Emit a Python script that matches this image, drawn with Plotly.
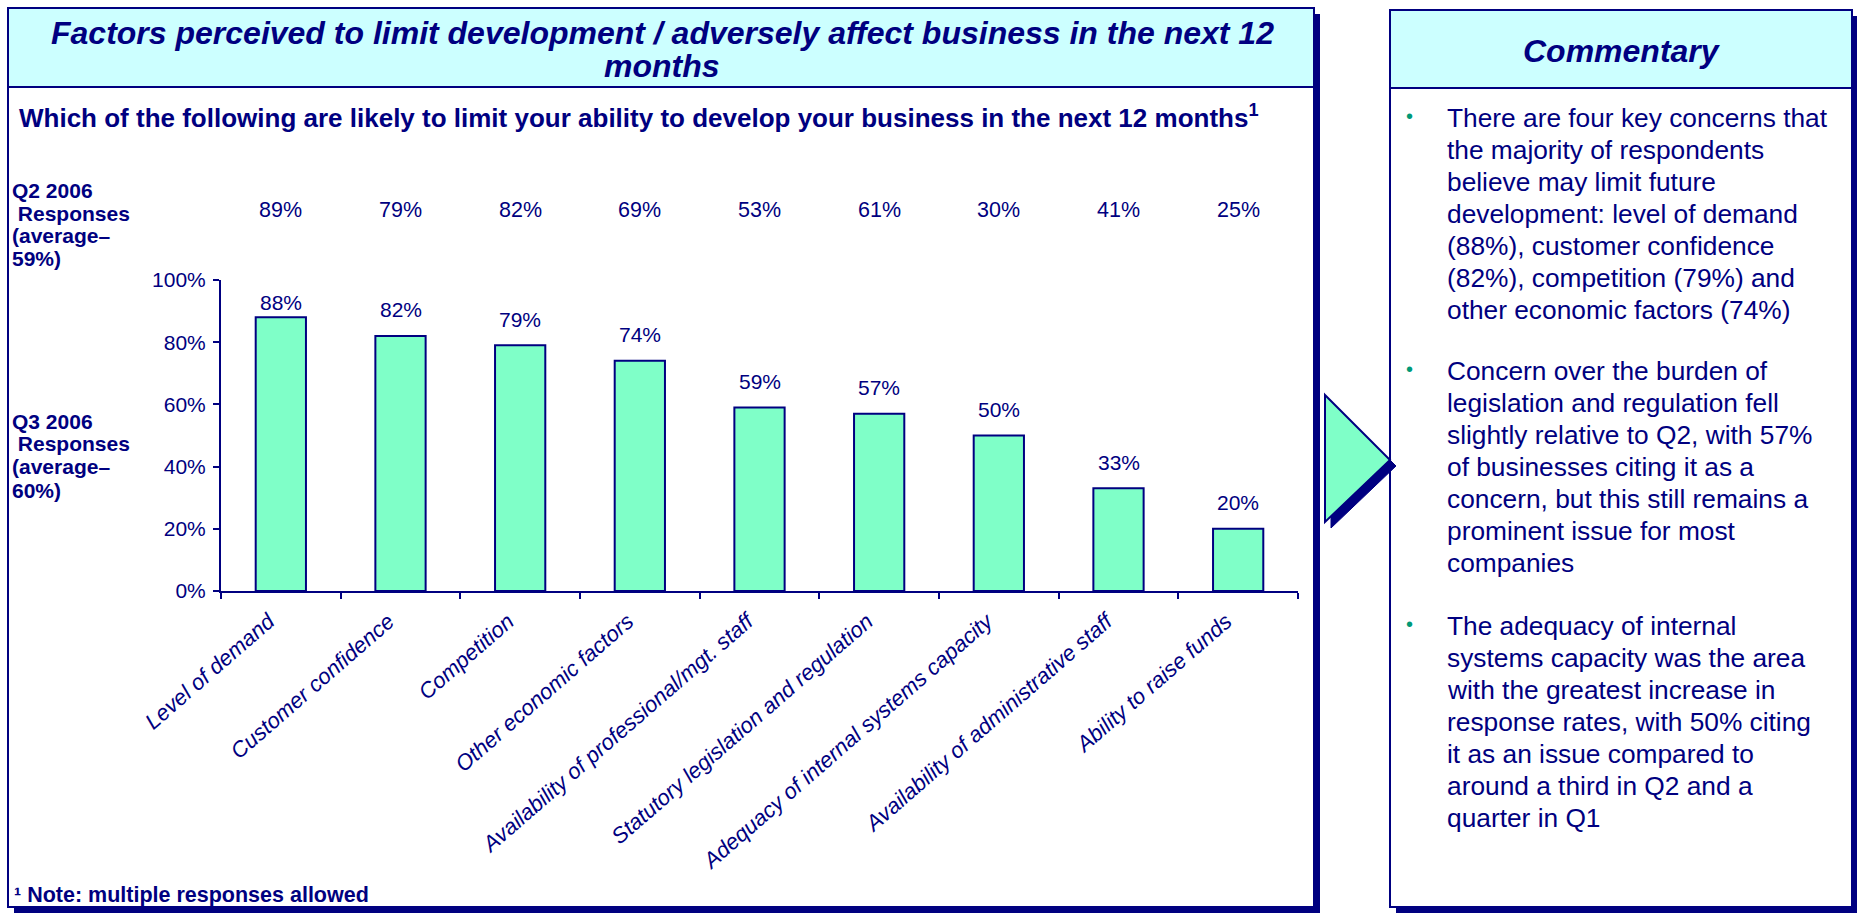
import plotly.graph_objects as go

# ---------------- data ----------------
categories = [
    "Level of demand",
    "Customer confidence",
    "Competition",
    "Other economic factors",
    "Availability of professional/mgt. staff",
    "Statutory legislation and regulation",
    "Adequacy of internal systems capacity",
    "Availability of administrative staff",
    "Ability to raise funds",
]
q3_values = [88, 82, 79, 74, 59, 57, 50, 33, 20]
q2_values = [89, 79, 82, 69, 53, 61, 30, 41, 25]
y_ticks = [0, 20, 40, 60, 80, 100]

title_lines = ["Factors perceived to limit development / adversely affect business in the next 12",
               "months"]
subtitle = "Which of the following are likely to limit your ability to develop your business in the next 12 months<sup>1</sup>"
q2_label = ["Q2 2006", " Responses", "(average\u2013", "59%)"]
q3_label = ["Q3 2006", " Responses", "(average\u2013", "60%)"]
footnote = "\u00b9 Note: multiple responses allowed"
commentary_title = "Commentary"
commentary = [
    ["There are four key concerns that", "the majority of respondents", "believe may limit future",
     "development: level of demand", "(88%), customer confidence", "(82%), competition (79%) and",
     "other economic factors (74%)"],
    ["Concern over the burden of", "legislation and regulation fell", "slightly relative to Q2, with 57%",
     "of businesses citing it as a", "concern, but this still remains a", "prominent issue for most",
     "companies"],
    ["The adequacy of internal", "systems capacity was the area", "with the greatest increase in",
     "response rates, with 50% citing", "it as an issue compared to", "around a third in Q2 and a",
     "quarter in Q1"],
]

# ---------------- styling ----------------
W, H = 1857, 915
NAVY = "#000080"
CYAN = "#CCFFFF"
AQUA = "#7FFFC8"
TEAL = "#009977"
FONT = "Liberation Sans, Arial, sans-serif"


def X(px):
    return px / W


def Y(py):
    return 1 - py / H


fig = go.Figure()

fig.add_trace(go.Bar(
    x=categories, y=q3_values,
    marker=dict(color=AQUA, line=dict(color=NAVY, width=2)),
    width=0.42,
    cliponaxis=False,
    hoverinfo="skip",
))

shapes = []
# left panel shadow + panel
shapes.append(dict(type="rect", xref="paper", yref="paper", x0=X(14), x1=X(1320), y0=Y(913), y1=Y(14),
                   fillcolor=NAVY, line=dict(width=0), layer="below"))
shapes.append(dict(type="rect", xref="paper", yref="paper", x0=X(8), x1=X(1314), y0=Y(907), y1=Y(8),
                   fillcolor="white", line=dict(color=NAVY, width=2), layer="below"))
shapes.append(dict(type="rect", xref="paper", yref="paper", x0=X(8), x1=X(1314), y0=Y(87), y1=Y(8),
                   fillcolor=CYAN, line=dict(color=NAVY, width=2), layer="below"))
# commentary panel
shapes.append(dict(type="rect", xref="paper", yref="paper", x0=X(1396), x1=X(1858), y0=Y(913), y1=Y(16),
                   fillcolor=NAVY, line=dict(width=0), layer="below"))
shapes.append(dict(type="rect", xref="paper", yref="paper", x0=X(1390), x1=X(1852), y0=Y(907), y1=Y(10),
                   fillcolor="white", line=dict(color=NAVY, width=2), layer="below"))
shapes.append(dict(type="rect", xref="paper", yref="paper", x0=X(1390), x1=X(1852), y0=Y(88), y1=Y(10),
                   fillcolor=CYAN, line=dict(color=NAVY, width=2), layer="below"))


def tri(pts):
    return "M " + " L ".join(f"{X(a):.5f},{Y(b):.5f}" for a, b in pts) + " Z"


# arrow with shadow
shapes.append(dict(type="path", xref="paper", yref="paper",
                   path=tri([(1331, 401), (1396, 466), (1331, 528)]),
                   fillcolor=NAVY, line=dict(color=NAVY, width=1), layer="above"))
shapes.append(dict(type="path", xref="paper", yref="paper",
                   path=tri([(1325, 395), (1390, 460), (1325, 522)]),
                   fillcolor=AQUA, line=dict(color=NAVY, width=2), layer="above"))

ann = []


def txt(s, x, y, size, bold=False, italic=False, anchor="left", color=NAVY, family=FONT):
    t = s
    if bold:
        t = f"<b>{t}</b>"
    if italic:
        t = f"<i>{t}</i>"
    ann.append(dict(text=t, x=X(x), y=Y(y), xref="paper", yref="paper", xanchor=anchor, yanchor="middle",
                    showarrow=False, font=dict(family=family, size=size, color=color)))


# titles
txt(title_lines[0], 662, 33, 32, bold=True, italic=True, anchor="center")
txt(title_lines[1], 662, 66, 32, bold=True, italic=True, anchor="center")
txt(subtitle, 17, 117, 26, bold=True)
txt(commentary_title, 1622, 51, 32, bold=True, italic=True, anchor="center")

# side labels
for i, s in enumerate(q2_label):
    txt(s, 10, 190 + i * 23, 21, bold=True)
for i, s in enumerate(q3_label):
    txt(s, 10, 421 + i * 23, 21, bold=True)

# Q3 value labels above bars
for c, v in zip(categories, q3_values):
    ann.append(dict(text=f"{v}%", x=c, xref="x", y=min(v + 8.4, 92.9), yref="y", xanchor="center",
                    yanchor="middle", showarrow=False, font=dict(family=FONT, size=21, color=NAVY)))

# Q2 values row
for c, v in zip(categories, q2_values):
    ann.append(dict(text=f"{v}%", x=c, xref="x", y=Y(210), yref="paper", xanchor="center", yanchor="middle",
                    showarrow=False, font=dict(family=FONT, size=21.5, color=NAVY)))

# footnote
txt(footnote, 12, 895, 21.5, bold=True)

# commentary
starts = [118, 371, 626]
for para, y0 in zip(commentary, starts):
    txt("\u2022", 1404, y0 - 2, 20, color=TEAL)
    for j, line in enumerate(para):
        txt(line, 1445, y0 + j * 32, 26.3)

fig.update_layout(
    width=W, height=H, autosize=False,
    margin=dict(l=0, r=0, t=0, b=0, pad=0),
    paper_bgcolor="white", plot_bgcolor="rgba(0,0,0,0)",
    showlegend=False,
    shapes=shapes, annotations=ann,
    font=dict(family=FONT, color=NAVY),
    xaxis=dict(domain=[X(221), X(1298)], showline=True, linecolor=NAVY, linewidth=2, automargin=False,
               ticks="outside", tickson="boundaries", ticklen=6, tickcolor=NAVY, tickwidth=2,
               tickangle=-41, showgrid=False, zeroline=False,
               ticklabelshift=-12, ticklabelstandoff=7,
               tickfont=dict(family=FONT, size=22, color=NAVY, style="italic")),
    yaxis=dict(domain=[Y(591), Y(280)], range=[0, 100], tickvals=y_ticks, automargin=False,
               ticktext=[f"{v}%" for v in y_ticks], showline=True, linecolor=NAVY, linewidth=2,
               ticks="outside", ticklen=6, tickcolor=NAVY, tickwidth=2, showgrid=False, zeroline=False,
               ticklabelstandoff=3,
               tickfont=dict(family=FONT, size=21, color=NAVY)),
    bargap=0.58,
)

fig.write_html("out.html")
